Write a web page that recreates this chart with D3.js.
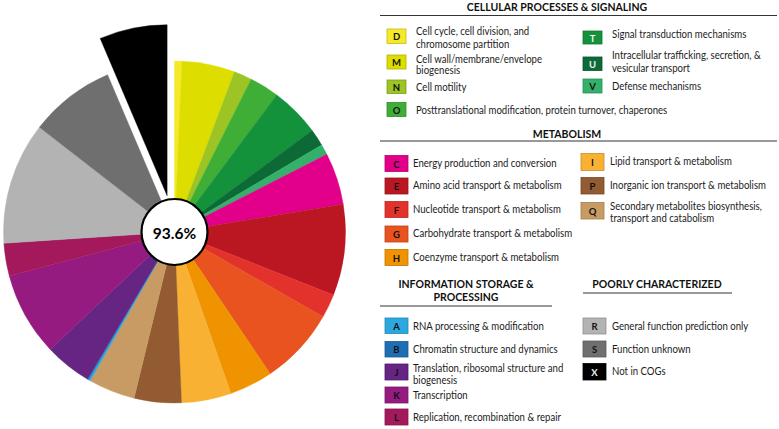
<!DOCTYPE html>
<html><head><meta charset="utf-8">
<script src="https://cdn.jsdelivr.net/npm/d3@7"></script>
<style>
html,body{margin:0;padding:0;background:#fff;}
svg{display:block;}
text{font-family:Lato,"Open Sans",sans-serif;}
</style></head>
<body><svg id="chart" width="779" height="429"></svg>
<script>
// ---- data ----
const categories = ["D","M","N","O","T","U","V","C","E","F","G","H","I","P","Q","A","B","J","K","L","R","S","X"];
const values     = [0.7,5.0,1.7,2.8,4.7,1.6,1.0,4.9,8.6,2.25,7.3,4.1,4.7,4.45,4.4,0.2,0.1,4.45,7.9,3.1,11.55,8.1,6.4];
const colors     = ["#f6e928","#dedd00","#9cc424","#3fae36","#14913b","#0b6a36","#34b06b","#e2008a","#bb1723","#e3322b","#e8531f","#f09300","#f8b133","#925b31","#c99b64","#2ca8e0","#1f6eb4","#662483","#951b81","#a3195b","#b3b3b3","#6f6f6f","#000000"];
const descriptions = {
  D:["Cell cycle, cell division, and","chromosome partition"],
  M:["Cell wall/membrane/envelope","biogenesis"],
  N:["Cell motility"],
  O:["Posttranslational modification, protein turnover, chaperones"],
  T:["Signal transduction mechanisms"],
  U:["Intracellular trafficking, secretion, &","vesicular transport"],
  V:["Defense mechanisms"],
  C:["Energy production and conversion"],
  E:["Amino acid transport & metabolism"],
  F:["Nucleotide transport & metabolism"],
  G:["Carbohydrate transport & metabolism"],
  H:["Coenzyme transport & metabolism"],
  I:["Lipid transport & metabolism"],
  P:["Inorganic ion transport & metabolism"],
  Q:["Secondary metabolites biosynthesis,","transport and catabolism"],
  A:["RNA processing & modification"],
  B:["Chromatin structure and dynamics"],
  J:["Translation, ribosomal structure and","biogenesis"],
  K:["Transcription"],
  L:["Replication, recombination & repair"],
  R:["General function prediction only"],
  S:["Function unknown"],
  X:["Not in COGs"]
};
const centerLabel = "93.6%";
const explodedCategory = "X";
const sectionTitles = [["CELLULAR PROCESSES & SIGNALING"],["METABOLISM"],["INFORMATION STORAGE &","PROCESSING"],["POORLY CHARACTERIZED"]];

// ---- layout (positions only) ----
const svg = d3.select("#chart");
const cx = 174.5, cy = 232, R = 171, r0 = 33, explode = 37;

const pie = d3.pie().sort(null).value(d => d.v).startAngle(0).endAngle(2*Math.PI);
const arcs = pie(categories.map((c,i)=>({c, v:values[i], col:colors[i]})));
const arc = d3.arc().innerRadius(0).outerRadius(R);

const g = svg.append("g").attr("transform",`translate(${cx},${cy})`);
g.selectAll("path").data(arcs).join("path")
  .attr("d", arc)
  .attr("fill", d => d.data.col)
  .attr("stroke", d => d.data.col)
  .attr("stroke-width", 0.4)
  .attr("transform", d => {
    if (d.data.c !== explodedCategory) return null;
    const m = (d.startAngle + d.endAngle)/2;
    return `translate(${explode*Math.sin(m)},${-explode*Math.cos(m)})`;
  });
g.append("circle").attr("r", r0).attr("fill","#fff").attr("stroke","#000").attr("stroke-width",2.2);
g.append("text").text(centerLabel).attr("text-anchor","middle").attr("dominant-baseline","central")
  .attr("y",1).attr("font-family","'Open Sans',sans-serif").attr("font-weight",700).attr("font-size",15.5).attr("fill","#000");

// legend section titles
const titleLayout = [
  {x:557, ys:[7], line:[380,777,15.5]},
  {x:567, ys:[133.5], line:[380,777,141]},
  {x:466, ys:[283.5,297], line:[380,552,306]},
  {x:657, ys:[284], line:[583,732,293]}
];
titleLayout.forEach((t,i)=>{
  sectionTitles[i].forEach((s,j)=>{
    svg.append("text").text(s).attr("x",t.x).attr("y",t.ys[j]).attr("text-anchor","middle")
      .attr("dominant-baseline","central").attr("font-weight",700).attr("font-size",10.5).attr("fill","#111");
  });
  svg.append("line").attr("x1",t.line[0]).attr("x2",t.line[1]).attr("y1",t.line[2]).attr("y2",t.line[2])
    .attr("stroke","#333").attr("stroke-width",1);
});

// legend items layout: swatch x,y,w,h ; text x ; line y centres
const itemLayout = {
  D:[387,29,19,14.5,416,[31,43.5]],
  M:[387,55,19,14,416,[58.5,70]],
  N:[387,80,19,13.5,416,[87]],
  O:[387,102.5,19,14,416,[109.5]],
  T:[583,31,19,13,612,[33.5]],
  U:[583,57,19,13.5,612,[54.5,67.5]],
  V:[583,79,19,14,612,[86]],
  C:[385,155.5,23,16,413,[162.5]],
  E:[385,178,23,16,413,[185]],
  F:[385,201.5,23,16,413,[209]],
  G:[385,226,23,16,413,[233]],
  H:[385,249.5,23,16,413,[256.5]],
  I:[581,153.5,23,17,610,[161]],
  P:[581,177.5,23,16.5,610,[184.5]],
  Q:[581,202.5,23,16.5,610,[206,218]],
  A:[385,318,23,15.5,413,[326]],
  B:[385,341.5,23,15.5,413,[349]],
  J:[385,364,23,16,413,[368,379.5]],
  K:[385,387,23,16,413,[395]],
  L:[385,409,23,16,413,[417]],
  R:[583,318,23,16,612,[326]],
  S:[583,341,23,16,612,[349]],
  X:[583,363.5,23,16.5,612,[371]]
};
const lightLetters = new Set(["T","U","X"]);
const squeeze = 0.915;
categories.forEach((c,i)=>{
  const L = itemLayout[c];
  const col = colors[i];
  svg.append("rect").attr("x",L[0]).attr("y",L[1]).attr("width",L[2]).attr("height",L[3])
    .attr("fill",col).attr("stroke",d3.color(col).darker(0.6)).attr("stroke-width",0.8);
  svg.append("text").text(c).attr("x",L[0]+L[2]/2).attr("y",L[1]+L[3]/2+0.5).attr("text-anchor","middle")
    .attr("dominant-baseline","central").attr("font-weight",700).attr("font-size",9.5)
    .attr("fill", lightLetters.has(c) ? "#f2f2f2" : "#111");
  descriptions[c].forEach((s,j)=>{
    svg.append("text").text(s)
      .attr("transform",`translate(${L[4]},${L[5][j]}) scale(${squeeze},1)`)
      .attr("dominant-baseline","central")
      .attr("font-size",10.5).attr("fill","#1c1c1c");
  });
});
</script></body></html>
